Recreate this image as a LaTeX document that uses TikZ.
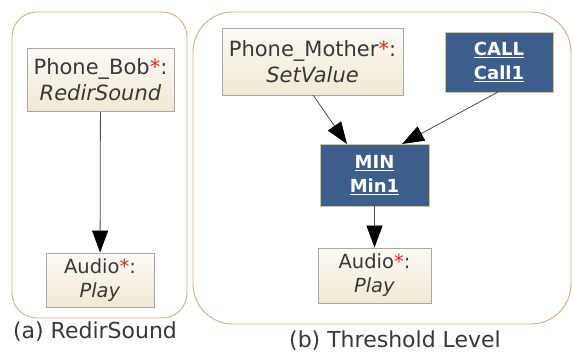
\documentclass[tikz,border=0pt]{standalone}
\usepackage{fontspec}
\setmainfont{DejaVu Sans}
\usetikzlibrary{arrows.meta}
\definecolor{frame}{HTML}{D8AE80}
\definecolor{boxline}{HTML}{A8A8A8}
\definecolor{txt}{HTML}{383838}
\definecolor{navy}{HTML}{3B5E8C}
\definecolor{gold}{HTML}{E6C27A}
\definecolor{beigetop}{HTML}{FCFAF5}
\definecolor{beigebot}{HTML}{F1E8D3}
\definecolor{star}{HTML}{F02020}
\tikzset{
  container/.style={draw=frame, line width=0.9pt},
  objbox/.style={draw=boxline, line width=0.9pt, top color=beigetop, bottom color=beigebot,
    text=txt, align=center, inner sep=0pt, font=\fontsize{21}{26}\selectfont},
  opbox/.style={draw=gold, line width=0.9pt, fill=navy, text=white, align=center, inner sep=0pt,
    font=\fontsize{18}{24}\selectfont\bfseries},
  link/.style={draw=black!70, line width=0.8pt, -{Triangle[length=22pt,width=16pt,fill=black,color=black]}},
  caption/.style={text=txt, font=\fontsize{22}{26}\selectfont, inner sep=0pt}
}
\newcommand{\rs}{\textcolor{star}{*}}
\begin{document}
\begin{tikzpicture}[x=1pt,y=-1pt]
\useasboundingbox (0,0) rectangle (573,353);
\fill[white] (0,0) rectangle (573,353);
% containers
\draw[container, rounded corners=25pt] (12,12) rectangle (187,318);
\draw[container, rounded corners=40pt] (193,12) rectangle (571,324);
% left
\node[objbox, minimum width=147pt, minimum height=63pt] (bob) at (100.5,80) {Phone\_Bob\rs:\\\textit{RedirSound}};
\node[objbox, minimum width=108pt, minimum height=54pt, font=\fontsize{19.5}{24}\selectfont] (audioL) at (100,280) {Audio\rs:\\\textit{Play}};
\draw[link] (bob) -- (audioL);
\node[caption] (capa) at (95,332) {(a) RedirSound};
% right
\node[objbox, minimum width=181pt, minimum height=67pt] (mother) at (312.5,61.5) {Phone\_Mother\rs:\\\textit{SetValue}};
\node[opbox, minimum width=108pt, minimum height=60pt] (call) at (499,62) {\underline{CALL}\\\underline{Call1}};
\node[opbox, minimum width=109pt, minimum height=62pt] (min) at (374.5,175) {\underline{MIN}\\\underline{Min1}};
\node[objbox, minimum width=113pt, minimum height=55pt, font=\fontsize{19.5}{24}\selectfont] (audioR) at (374.5,275.5) {Audio\rs:\\\textit{Play}};
\coordinate (m1) at (313,95);
\coordinate (m2) at (347,144);
\coordinate (c1) at (498,92);
\coordinate (c2) at (402,144);
\draw[link] (m1) -- (m2);
\draw[link] (c1) -- (c2);
\draw[link] (min) -- (audioR);
\node[caption] (capb) at (395,341) {(b) Threshold Level};
\end{tikzpicture}
\end{document}
